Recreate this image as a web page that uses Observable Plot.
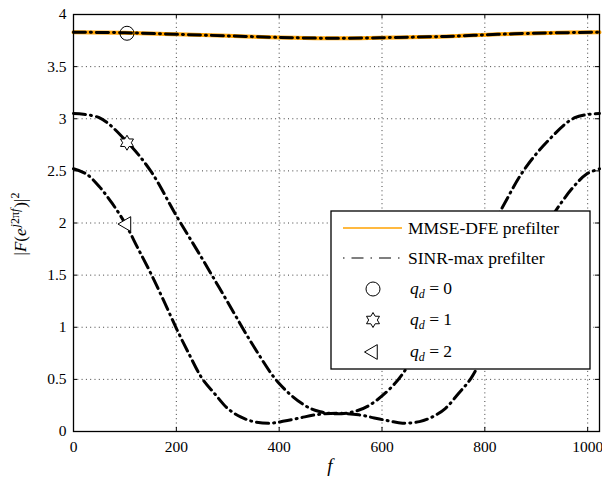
<!DOCTYPE html>
<html><head><meta charset="utf-8">
<script src="https://cdn.jsdelivr.net/npm/d3@7"></script>
<script src="https://cdn.jsdelivr.net/npm/@observablehq/plot@0.6"></script>
<style>
body{margin:0;background:#fff;overflow:hidden}
#chart svg, #chart svg text{font-family:"Liberation Serif","Times New Roman",serif !important}
</style>
</head><body><div id="chart"></div>
<script>
// ---- data ----
const topF = [0, 100, 200, 300, 400, 450, 512, 575, 625, 725, 825, 925, 1023];
const topV = [3.83, 3.825, 3.81, 3.795, 3.78, 3.775, 3.772, 3.775, 3.78, 3.79, 3.81, 3.823, 3.83];

const q1F = [0, 50, 100, 150, 200, 250, 300, 350, 400, 450, 480, 512, 545, 575, 625, 675, 725, 775, 825, 875, 925, 975, 1023];
const q1V = [3.05, 3.01, 2.80, 2.50, 2.07, 1.66, 1.24, 0.82, 0.46, 0.25, 0.19, 0.17, 0.19, 0.25, 0.46, 0.82, 1.24, 1.66, 2.07, 2.50, 2.80, 3.01, 3.05];

const q2F = [0, 25, 50, 75, 100, 125, 150, 175, 200, 225, 250, 275, 300, 325, 350, 383, 410, 440, 470, 512, 555, 585, 615, 640, 673, 698, 723, 748, 773, 798, 823, 848, 873, 898, 923, 948, 973, 998, 1023];
const q2V = [2.52, 2.47, 2.35, 2.19, 2.00, 1.76, 1.52, 1.26, 0.99, 0.74, 0.51, 0.36, 0.22, 0.14, 0.095, 0.08, 0.10, 0.13, 0.16, 0.175, 0.16, 0.13, 0.10, 0.08, 0.095, 0.14, 0.22, 0.36, 0.51, 0.74, 0.99, 1.26, 1.52, 1.76, 2.00, 2.19, 2.35, 2.47, 2.52];

const markerF = [104, 104, 103];
const markerV = [3.82, 2.77, 1.99];
const markerLabels = ["0", "1", "2"];

const seriesLabels = ["MMSE-DFE prefilter", "SINR-max prefilter"];
const xTicks = [0, 200, 400, 600, 800, 1000];
const yTicks = [0, 0.5, 1, 1.5, 2, 2.5, 3, 3.5, 4];

// ---- tables ----
const toRows = (F, V) => F.map((f, i) => ({f, v: V[i]}));
const topRows = toRows(topF, topV);
const q1Rows = toRows(q1F, q1V);
const q2Rows = toRows(q2F, q2V);
const markRows = markerF.map((f, i) => ({f, v: markerV[i]}));

// ---- custom symbols ----
const hexagram = {draw(ctx, size) {
  const R = Math.sqrt(size / Math.PI), r = R / Math.sqrt(3);
  for (let k = 0; k < 12; k++) {
    const a = -Math.PI / 2 + k * Math.PI / 6, rr = k % 2 ? r : R;
    const x = rr * Math.cos(a), y = rr * Math.sin(a);
    k ? ctx.lineTo(x, y) : ctx.moveTo(x, y);
  }
  ctx.closePath();
}};
const triLeft = {draw(ctx, size) {
  const R = Math.sqrt(size / Math.PI);
  ctx.moveTo(-R, 0);
  ctx.lineTo(R * 0.5, -R * 0.866);
  ctx.lineTo(R * 0.5, R * 0.866);
  ctx.closePath();
}};
const circ = {draw(ctx, size) {
  const R = Math.sqrt(size / Math.PI);
  ctx.moveTo(R, 0); ctx.arc(0, 0, R, 0, 2 * Math.PI);
}};

const FONT = '"Liberation Serif","Times New Roman",serif';
const W = 602, H = 483, mL = 73, mR = 3, mT = 14, mB = 52;
const plotW = W - mL - mR, plotH = H - mT - mB;
const dashDot = "12,5,1,5";

const plot = Plot.plot({
  width: W, height: H,
  marginLeft: mL, marginRight: mR, marginTop: mT, marginBottom: mB,
  style: {fontFamily: FONT, fontSize: "15.5px", color: "black", background: "white"},
  x: {domain: [0, 1023], label: null},
  y: {domain: [0, 4], label: null},
  marks: [
    Plot.gridX(xTicks, {stroke: "#000", strokeOpacity: 0.75, strokeDasharray: "1,3.3"}),
    Plot.gridY(yTicks, {stroke: "#000", strokeOpacity: 0.75, strokeDasharray: "1,3.3"}),
    Plot.line(q2Rows, {x: "f", y: "v", curve: "catmull-rom", stroke: "black", strokeWidth: 3, strokeDasharray: dashDot}),
    Plot.line(q1Rows, {x: "f", y: "v", curve: "catmull-rom", stroke: "black", strokeWidth: 3, strokeDasharray: dashDot}),
    Plot.line(topRows, {x: "f", y: "v", curve: "catmull-rom", stroke: "#ffa200", strokeWidth: 4}),
    Plot.line(topRows, {x: "f", y: "v", curve: "catmull-rom", stroke: "black", strokeWidth: 3, strokeDasharray: dashDot}),
    Plot.dot(markRows.slice(0, 1), {x: "f", y: "v", symbol: circ, r: 7, stroke: "black", strokeWidth: 1, fill: "none"}),
    Plot.dot(markRows.slice(1, 2), {x: "f", y: "v", symbol: hexagram, r: 7.5, stroke: "black", strokeWidth: 1, fill: "white"}),
    Plot.dot(markRows.slice(2, 3), {x: "f", y: "v", symbol: triLeft, r: 8.5, stroke: "black", strokeWidth: 1, fill: "white"}),
    Plot.ruleX(xTicks, {stroke: "black", insetTop: plotH - 4}),
    Plot.ruleX(xTicks, {stroke: "black", insetBottom: plotH - 4}),
    Plot.ruleY(yTicks, {stroke: "black", insetRight: plotW - 4}),
    Plot.ruleY(yTicks, {stroke: "black", insetLeft: plotW - 4}),
    Plot.frame({stroke: "black", strokeWidth: 1.3}),
    Plot.axisX(xTicks, {tickSize: 0, tickPadding: 9, tickFormat: d => String(d), label: null, fontFamily: FONT}),
    Plot.axisY(yTicks, {tickSize: 0, tickPadding: 7, tickFormat: d => String(d), label: null, fontFamily: FONT})
  ]
});
document.getElementById("chart").appendChild(plot);

// ---- axis titles and legend ----
const svg = d3.select(plot);
const yl = svg.append("text")
  .attr("transform", "translate(26,224) rotate(-90)")
  .attr("text-anchor", "middle").attr("font-size", 17).attr("fill", "black").attr("font-family", FONT);
yl.append("tspan").text("|");
yl.append("tspan").attr("font-style", "italic").text("F");
yl.append("tspan").text("(");
yl.append("tspan").attr("font-style", "italic").text("e");
yl.append("tspan").attr("font-size", 12).attr("dy", -7).attr("dx", 1).attr("font-style", "italic").text("j");
yl.append("tspan").attr("font-size", 12).text("2π");
yl.append("tspan").attr("font-size", 12).attr("font-style", "italic").text("f");
yl.append("tspan").attr("dy", 7).attr("dx", 1).text(")|");
yl.append("tspan").attr("font-size", 12).attr("dy", -7).text("2");

svg.append("text").attr("x", 330).attr("y", 472).attr("text-anchor", "middle").attr("font-family", FONT)
  .attr("font-size", 19).attr("font-style", "italic").attr("fill", "black").text("f");

const lg = svg.append("g").attr("font-size", 17.5).attr("fill", "black").attr("text-anchor", "start").attr("font-family", FONT);
lg.append("rect").attr("x", 331).attr("y", 211).attr("width", 259).attr("height", 158)
  .attr("fill", "white").attr("stroke", "black").attr("stroke-width", 1.3);
const rowY = [228, 258, 289, 320, 352];
lg.append("line").attr("x1", 343).attr("x2", 402).attr("y1", rowY[0]).attr("y2", rowY[0])
  .attr("stroke", "#ffa200").attr("stroke-width", 1.3);
lg.append("line").attr("x1", 343).attr("x2", 402).attr("y1", rowY[1]).attr("y2", rowY[1])
  .attr("stroke", "black").attr("stroke-width", 1.2).attr("stroke-dasharray", "1.5,7,12,7");
seriesLabels.forEach((s, i) => lg.append("text").attr("x", 408).attr("y", rowY[i] + 6).attr("text-anchor", "start").text(s));
const syms = [circ, hexagram, triLeft], symR = [7, 7.5, 8.5];
syms.forEach((s, i) => {
  lg.append("path").attr("transform", `translate(373,${rowY[i + 2]})`)
    .attr("d", d3.symbol(s, Math.PI * symR[i] * symR[i])())
    .attr("fill", "none").attr("stroke", "black").attr("stroke-width", 1);
  const t = lg.append("text").attr("x", 410).attr("y", rowY[i + 2] + 5).attr("text-anchor", "start");
  t.append("tspan").attr("font-style", "italic").text("q");
  t.append("tspan").attr("font-style", "italic").attr("font-size", 12).attr("dy", 4).text("d");
  t.append("tspan").attr("dy", -4).text(" = " + markerLabels[i]);
});
</script>
</body></html>
